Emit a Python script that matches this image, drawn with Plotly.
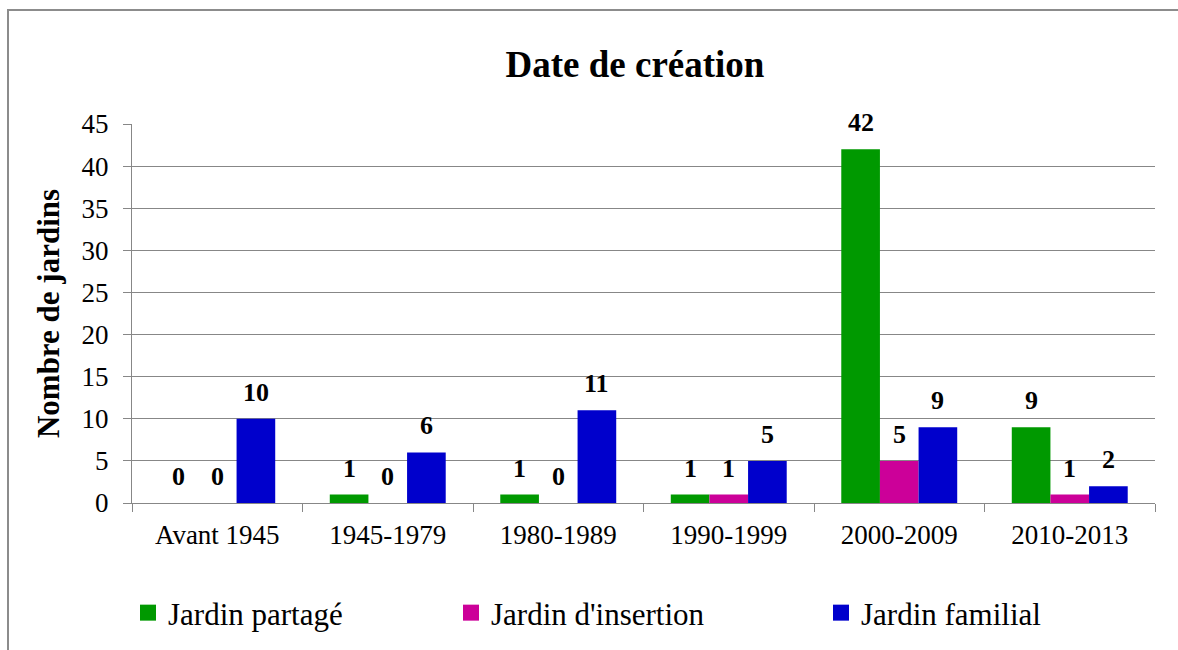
import plotly.graph_objects as go

# Data
periodes = ["Avant 1945", "1945-1979", "1980-1989", "1990-1999", "2000-2009", "2010-2013"]
jardin_partage = [0, 1, 1, 1, 42, 9]
jardin_insertion = [0, 0, 0, 1, 5, 1]
jardin_familial = [10, 6, 11, 5, 9, 2]
y_ticks = [0, 5, 10, 15, 20, 25, 30, 35, 40, 45]

series = [
    ("Jardin partagé", jardin_partage, "#009900"),
    ("Jardin d'insertion", jardin_insertion, "#CC0099"),
    ("Jardin familial", jardin_familial, "#0000CC"),
]

# Canvas and plot-area geometry (pixels)
W, H = 1178, 650
L, R, T, B = 132, 23, 124, 147
PW, PH = W - L - R, H - T - B
BARGAP = 0.32

FONT = "Liberation Serif, Times New Roman, serif"
GRID = "#878787"


def px_x(x):
    return (x - L) / PW


def px_y(y):
    return (H - B - y) / PH


fig = go.Figure()

for name, vals, color in series:
    fig.add_trace(go.Bar(
        x=periodes, y=vals, name=name,
        marker=dict(color=color, line=dict(width=0)),
        showlegend=False,
    ))

# Value labels above each bar
cat_w = PW / len(periodes)
bar_w = cat_w * (1 - BARGAP) / len(series)
for i, (name, vals, color) in enumerate(series):
    offset = (i - (len(series) - 1) / 2) * bar_w
    for cat, v in zip(periodes, vals):
        fig.add_annotation(
            x=cat, y=v, xref="x", yref="y",
            text=f"<b>{v}</b>", showarrow=False,
            xanchor="center", yanchor="bottom",
            xshift=offset, yshift=10,
            font=dict(family=FONT, size=26, color="black"),
        )

# Legend entries, each in its own legend box
legend_x = [148, 471, 841]
legend_names = ["legend", "legend2", "legend3"]
for (name, vals, color), lx, lg in zip(series, legend_x, legend_names):
    fig.add_trace(go.Scatter(
        x=[None], y=[None], mode="markers", name=name,
        marker=dict(symbol="square", size=16, color=color),
        legend=lg, showlegend=True,
    ))

legend_common = dict(
    orientation="h", yanchor="middle", y=px_y(613), xanchor="left",
    font=dict(family=FONT, size=31, color="black"),
    bgcolor="rgba(0,0,0,0)", borderwidth=0, itemsizing="trace",
)

# Outer frame (top and left edges visible)
fig.add_shape(
    type="path", xref="paper", yref="paper",
    path=f"M {px_x(8)},{px_y(H)} L {px_x(8)},{px_y(10)} L {px_x(W)},{px_y(10)}",
    line=dict(color="#8c8c8c", width=2),
)

fig.update_layout(
    template="none",
    width=W, height=H,
    margin=dict(l=L, r=R, t=T, b=B, autoexpand=False),
    paper_bgcolor="white", plot_bgcolor="white",
    barmode="group", bargap=BARGAP, bargroupgap=0,
    title=dict(
        text="<b>Date de création</b>",
        x=635 / W, xref="container", xanchor="center",
        y=1 - 64 / H, yref="container", yanchor="middle",
        font=dict(family=FONT, size=37, color="black"),
    ),
    legend=dict(x=px_x(legend_x[0] - 20), **legend_common),
    legend2=dict(x=px_x(legend_x[1] - 20), **legend_common),
    legend3=dict(x=px_x(legend_x[2] - 20), **legend_common),
    xaxis=dict(
        type="category",
        showline=True, linecolor=GRID, linewidth=1,
        ticks="outside", tickson="boundaries", ticklen=8, tickcolor=GRID,
        showgrid=False, automargin=False,
        ticklabelstandoff=8,
        tickfont=dict(family=FONT, size=27, color="black"),
    ),
    yaxis=dict(
        range=[0, 45], tickvals=y_ticks, ticktext=[str(t) for t in y_ticks],
        showline=True, linecolor=GRID, linewidth=1,
        ticks="outside", ticklen=8, tickcolor=GRID,
        showgrid=True, gridcolor=GRID, gridwidth=1,
        zeroline=False, automargin=False,
        ticklabelstandoff=9,
        tickfont=dict(family=FONT, size=27, color="black"),
        title=dict(text="<b>Nombre de jardins</b>", standoff=12,
                   font=dict(family=FONT, size=31, color="black")),
    ),
)

fig.write_html("out.html")
